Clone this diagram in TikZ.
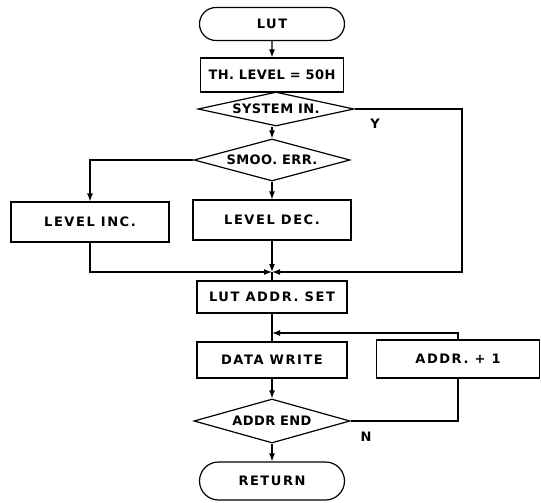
\documentclass[tikz,border=0pt]{standalone}
\usepackage{fontspec}
\setsansfont{DejaVu Sans}
\newfontfamily\boxfont[LetterSpace=12]{DejaVu Sans}
\newfontfamily\askfont[LetterSpace=3]{DejaVu Sans}
\usetikzlibrary{shapes.geometric,shapes.misc,arrows.meta}

\begin{document}
\begin{tikzpicture}[x=1pt,y=-1pt,
    font=\boxfont\bfseries\fontsize{13}{15}\selectfont,
    terminal/.style={draw, line width=1.2pt, rounded rectangle, minimum width=145pt, minimum height=33pt, inner sep=0pt},
    process/.style={draw, line width=1.2pt, rectangle, minimum width=150pt, minimum height=34pt, inner sep=0pt},
    decision/.style={draw, line width=1.2pt, diamond, aspect=4.5, inner sep=0pt, minimum width=156pt,
        font=\askfont\bfseries\fontsize{13}{15}\selectfont},
    flow/.style={line width=1.2pt, -{Latex[length=8pt,width=6pt]}},
    link/.style={line width=1.2pt}]
    \useasboundingbox (0,0) rectangle (541,503);
    % Main column
    \node[terminal] (lut) at (272,24) {LUT};
    \node[process, minimum width=143pt, font=\askfont\bfseries\fontsize{13}{15}\selectfont] (th) at (272,75) {TH. LEVEL = 50H};
    \node[decision, minimum height=34pt] (sys) at (276,109) {SYSTEM IN.};
    \node[decision, minimum height=42pt] (smoo) at (272,160) {SMOO. ERR.};
    % Level branches
    \node[process, minimum width=158pt, minimum height=40pt] (inc) at (90,222) {LEVEL INC.};
    \node[process, minimum width=158pt, minimum height=40pt] (dec) at (272,220) {LEVEL DEC.};
    \coordinate (merge) at (272,272);
    \coordinate (yturn) at (462,272);
    \node[process, minimum height=32pt] (set) at (272,297) {LUT ADDR. SET};
    % Write loop
    \coordinate (loop) at (272,333);
    \node[process, minimum height=36pt] (write) at (272,360) {DATA WRITE};
    \node[process, minimum width=163pt, minimum height=38pt] (next) at (458,359) {ADDR. + 1};
    \node[decision, minimum height=44pt] (end) at (272,421) {ADDR END};
    \node[terminal, minimum height=38pt] (ret) at (272,481) {RETURN};
    % Branch labels
    \node[font=\askfont\bfseries\fontsize{13}{15}\selectfont] (ylab) at (375,124) {Y};
    \node[font=\askfont\bfseries\fontsize{13}{15}\selectfont] (nlab) at (366,437) {N};
    % Connectors
    \draw[flow] (lut) -- (th);
    \draw[flow] (sys.south -| smoo.north) -- (smoo.north);
    \draw[flow] (smoo.west) -| (inc.north);
    \draw[flow] (smoo) -- (dec);
    \draw[flow] (inc.south) |- (merge);
    \draw[flow] (sys.east) -| (yturn) -- (merge);
    \draw[flow] (dec) -- (merge);
    \draw[link] (merge) -- (set);
    \draw[link] (set) -- (write);
    \draw[flow] (next.north) |- (loop);
    \draw[flow] (write) -- (end);
    \draw[link] (end.east) -| (next.south);
    \draw[flow] (end) -- (ret);
\end{tikzpicture}
\end{document}
